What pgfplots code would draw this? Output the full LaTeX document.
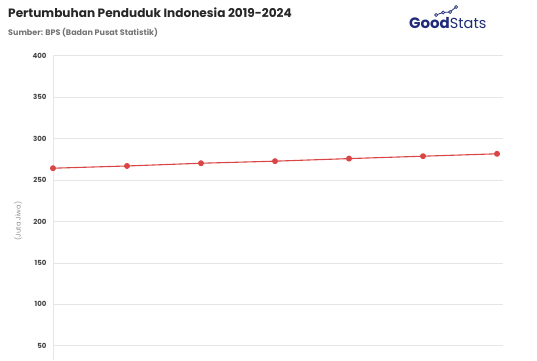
\documentclass[border=0pt]{standalone}
\usepackage{pgfplots}
\pgfplotsset{compat=1.18}
\usepackage{fontspec}
\setmainfont{Poppins}
\definecolor{linered}{HTML}{D94545}
\definecolor{gridgray}{HTML}{E6E6E6}
\definecolor{navy}{HTML}{1F2A78}
\definecolor{ticktxt}{HTML}{444444}
\begin{document}
\begin{tikzpicture}
\begin{axis}[
  at={(53pt,0pt)}, anchor=south west,
  scale only axis,
  width=450pt, height=304.3pt,
  xmin=0, xmax=6.081,
  ymin=32.7, ymax=400,
  axis line style={draw=none},
  xtick={0}, xticklabels={},
  ytick={50,100,150,200,250,300,350,400},
  major tick length=0pt,
  xmajorgrids, ymajorgrids,
  grid style={gridgray, line width=0.6pt},
  yticklabel style={font=\fontsize{7}{8}\selectfont\bfseries, text=ticktxt, xshift=-3pt},
  /pgf/number format/assume math mode=true,
  clip=false,
]
\addplot[color=linered, line width=1.1pt, mark=*, mark size=2.4pt, mark options={fill=linered, draw=linered}]
coordinates {(0,264.2) (1,266.9) (2,270.2) (3,272.7) (4,275.8) (5,278.7) (6,281.6)};
\end{axis}
% titles
\node[anchor=base west, inner sep=0pt, text=black!85] at (8pt,343pt) {\fontsize{12.1}{14}\selectfont\bfseries Pertumbuhan Penduduk Indonesia 2019-2024};
\node[anchor=base west, inner sep=0pt, text=black!55] at (8pt,324.5pt) {\fontsize{8}{9}\selectfont\bfseries Sumber: BPS (Badan Pusat Statistik)};
% y label
\node[rotate=90, inner sep=0pt, text=black!45] at (18pt,139pt) {\fontsize{6.8}{8}\selectfont (Juta Jiwa)};
% logo
\node[anchor=base west, inner sep=0pt, text=navy] at (409pt,332pt) {\fontsize{15}{16}\selectfont\bfseries Good\mdseries\fontsize{14.5}{16}\selectfont Stats};
\draw[navy, line width=0.8pt] (436pt,345pt) -- (443pt,347.5pt) -- (450pt,348pt) -- (456pt,353pt);
\foreach \p in {(436pt,345pt),(443pt,347.5pt),(450pt,348pt),(456pt,353pt)} \draw[navy, fill=white, line width=0.7pt] \p circle (1.5pt);
\pgfresetboundingbox
\useasboundingbox (0,0) rectangle (537pt,360pt);
\end{tikzpicture}
\end{document}
